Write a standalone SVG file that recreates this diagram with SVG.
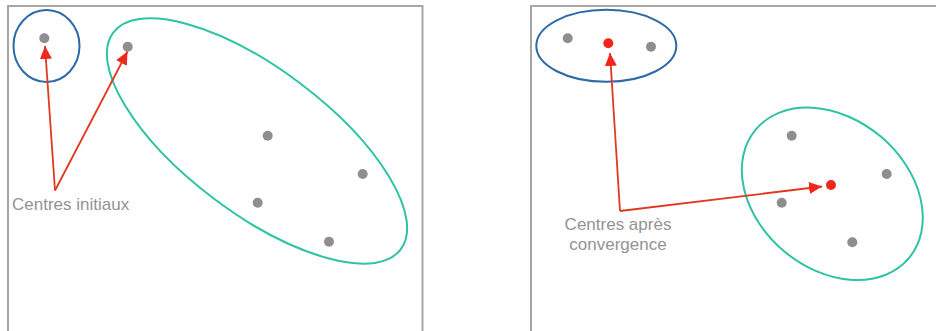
<svg xmlns="http://www.w3.org/2000/svg" width="936" height="331" viewBox="0 0 936 331">
  <style>
    .frame { fill: none; stroke: #a6a6a6; stroke-width: 2; }
    .blue { fill: none; stroke: #2d6aa6; stroke-width: 2; }
    .green { fill: none; stroke: #2fc3a5; stroke-width: 2; }
    .pt { fill: #8e8e8e; }
    .ctr { fill: #f2261a; }
    .arrow { fill: none; stroke: #e0391f; stroke-width: 1.8; marker-end: url(#head); }
    .label { font-family: "Liberation Sans", Arial, sans-serif; font-size: 17px; fill: #939393; }
  </style>
  <defs>
    <marker id="head" markerUnits="userSpaceOnUse" markerWidth="14" markerHeight="12" refX="13" refY="6" orient="auto">
      <path d="M0,0 L13,6 L0,12 Z" fill="#f2261a"/>
    </marker>
  </defs>
  <rect width="936" height="331" fill="#ffffff"/>

  <!-- left panel: initial centres -->
  <g id="panel-initial">
    <path class="frame" d="M8,340 V6 H422.5 V340"/>
    <g id="cluster-blue-1">
      <ellipse class="blue" cx="46.5" cy="46" rx="33" ry="36"/>
      <circle class="pt" cx="44.3" cy="38.3" r="5"/>
    </g>
    <g id="cluster-green-1">
      <ellipse class="green" cx="257" cy="141" rx="180" ry="72" transform="rotate(37 257 141)"/>
      <circle class="pt" cx="127.7" cy="46.7" r="5"/>
      <circle class="pt" cx="267.7" cy="135.7" r="5"/>
      <circle class="pt" cx="362.7" cy="174" r="5"/>
      <circle class="pt" cx="257.7" cy="202.7" r="5"/>
      <circle class="pt" cx="329" cy="241.7" r="5"/>
    </g>
    <g id="label-initial">
      <text class="label" x="12" y="210">Centres initiaux</text>
    </g>
  </g>

  <!-- right panel: centres after convergence -->
  <g id="panel-converged">
    <path class="frame" d="M531,340 V6 H940"/>
    <g id="cluster-blue-2">
      <ellipse class="blue" cx="606.3" cy="45.8" rx="70" ry="36"/>
      <circle class="pt" cx="567.7" cy="38.3" r="5"/>
      <circle class="pt" cx="651" cy="46.7" r="5"/>
      <circle class="ctr" cx="608.3" cy="43.3" r="5"/>
    </g>
    <g id="cluster-green-2">
      <ellipse class="green" cx="832.3" cy="193.8" rx="100" ry="75" transform="rotate(40 832.3 193.8)"/>
      <circle class="pt" cx="791.7" cy="135.7" r="5"/>
      <circle class="pt" cx="886.7" cy="174" r="5"/>
      <circle class="pt" cx="781.7" cy="202.7" r="5"/>
      <circle class="pt" cx="852.3" cy="242.3" r="5"/>
      <circle class="ctr" cx="831" cy="185" r="5"/>
    </g>
    <g id="label-converged">
      <text class="label" x="618" y="230" text-anchor="middle">Centres après</text>
      <text class="label" x="618" y="250" text-anchor="middle">convergence</text>
    </g>
  </g>

  <!-- connectors -->
  <g id="connectors">
    <line class="arrow" x1="55" y1="190.5" x2="45" y2="46"/>
    <line class="arrow" x1="55" y1="190.5" x2="127.5" y2="51.5"/>
    <line class="arrow" x1="620" y1="211" x2="610" y2="53"/>
    <line class="arrow" x1="620" y1="211" x2="822" y2="186.5"/>
  </g>
</svg>
